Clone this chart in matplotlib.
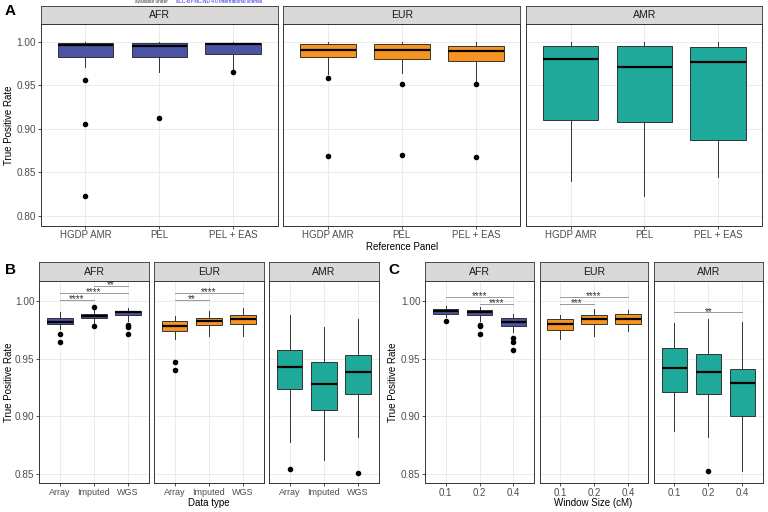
import numpy as np
import matplotlib.pyplot as plt

plt.rcParams['font.family'] = ['Liberation Sans', 'DejaVu Sans']

# ---- data: [whislo, q1, median, q3, whishi] per category ----
ref_panels = ["HGDP AMR", "PEL", "PEL + EAS"]
data_types = ["Array", "Imputed", "WGS"]
win_sizes = ["0.1", "0.2", "0.4"]
pops = ["AFR", "EUR", "AMR"]

a_afr = [[0.971, 0.983, 0.9962, 0.9992, 1.000],
         [0.9655, 0.983, 0.995, 0.999, 1.000],
         [0.968, 0.9862, 0.9973, 0.999, 1.000]]
a_afr_out = [[0.956, 0.905, 0.822], [0.912], [0.965]]
a_eur = [[0.963, 0.983, 0.9912, 0.9977, 1.000],
         [0.964, 0.9805, 0.991, 0.9973, 1.000],
         [0.953, 0.978, 0.990, 0.995, 1.000]]
a_eur_out = [[0.958, 0.869], [0.951, 0.8693], [0.951, 0.868]]
a_amr = [[0.8394, 0.9095, 0.980, 0.9954, 1.000],
         [0.8226, 0.9073, 0.9716, 0.995, 1.000],
         [0.844, 0.887, 0.977, 0.9946, 1.000]]
a_amr_out = [[], [], []]

b_afr = [[0.976, 0.980, 0.982, 0.985, 0.990],
         [0.981, 0.985, 0.987, 0.989, 0.992],
         [0.983, 0.9876, 0.990, 0.9916, 0.9936]]
b_afr_out = [[0.9716, 0.964], [0.9945, 0.978], [0.979, 0.977, 0.971]]
b_eur = [[0.967, 0.9742, 0.978, 0.9826, 0.9873],
         [0.970, 0.979, 0.983, 0.9852, 0.991],
         [0.970, 0.980, 0.984, 0.9878, 0.9936]]
b_eur_out = [[0.947, 0.940], [], []]
b_amr = [[0.878, 0.924, 0.943, 0.957, 0.9876],
         [0.862, 0.9054, 0.928, 0.947, 0.977],
         [0.882, 0.919, 0.938, 0.953, 0.984]]
b_amr_out = [[0.854], [], [0.851]]

c_afr = [[0.986, 0.989, 0.991, 0.9928, 0.996],
         [0.983, 0.988, 0.990, 0.9919, 0.995],
         [0.973, 0.978, 0.9815, 0.985, 0.989]]
c_afr_out = [[0.983], [0.979, 0.978, 0.9716], [0.968, 0.9644, 0.957]]
c_eur = [[0.9667, 0.975, 0.980, 0.984, 0.9878],
         [0.970, 0.980, 0.984, 0.988, 0.9928],
         [0.974, 0.980, 0.9847, 0.989, 0.992]]
c_eur_out = [[], [], []]
c_amr = [[0.887, 0.9207, 0.942, 0.9595, 0.9806],
         [0.882, 0.919, 0.938, 0.9537, 0.984],
         [0.8527, 0.900, 0.9285, 0.9407, 0.9815]]
c_amr_out = [[], [0.852], []]

# significance brackets: (from, to, height, label)
b_afr_sig = [(1, 2, 1.0006, "****"), (1, 3, 1.0067, "****"), (2, 3, 1.013, "**")]
b_eur_sig = [(1, 2, 1.0006, "**"), (1, 3, 1.0067, "****")]
c_afr_sig = [(1, 3, 1.0037, "****"), (2, 3, 0.9977, "****")]
c_eur_sig = [(1, 2, 0.9977, "***"), (1, 3, 1.0037, "****")]
c_amr_sig = [(1, 3, 0.990, "**")]

colors = {"AFR": "#4A54A2", "EUR": "#F7931E", "AMR": "#1FA99B"}

W, H = 768, 512
fig = plt.figure(figsize=(7.68, 5.12), dpi=100)


def rect(x0, y0, x1, y1):
    return [x0 / W, 1 - y1 / H, (x1 - x0) / W, (y1 - y0) / H]


def facet(x0, x1, ys, yt, yb, pop, stats, outs, labels, xfs, ylim, yticks, showy, sig=()):
    sax = fig.add_axes(rect(x0, ys, x1, yt))
    sax.set_facecolor('#D9D9D9')
    sax.set_xticks([]); sax.set_yticks([])
    for s in sax.spines.values():
        s.set_color('#333333'); s.set_linewidth(0.6)
    sax.text(0.5, 0.47, pop, ha='center', va='center', fontsize=7.6,
             color='#1A1A1A', transform=sax.transAxes)

    ax = fig.add_axes(rect(x0, yt, x1, yb))
    bs = []
    for st, o in zip(stats, outs):
        bs.append(dict(whislo=st[0], q1=st[1], med=st[2], q3=st[3], whishi=st[4], fliers=o))
    ax.bxp(bs, positions=[1, 2, 3], widths=0.75, patch_artist=True, showcaps=False,
           boxprops=dict(facecolor=colors[pop], edgecolor='#333333', linewidth=0.7),
           medianprops=dict(color='black', linewidth=1.6),
           whiskerprops=dict(color='#333333', linewidth=0.7),
           flierprops=dict(marker='o', markerfacecolor='black', markeredgecolor='black',
                           markersize=3.0))
    for x1b, x2b, h, lab in sig:
        ax.plot([x1b, x2b], [h, h], color='#9A9A9A', lw=0.7)
        ax.annotate(lab, xy=((x1b + x2b) / 2, h), xytext=(0, -1.6),
                    textcoords='offset points', ha='center', va='baseline',
                    fontsize=7.0, color='#333333')
    ax.set_xlim(0.4, 3.6)
    ax.set_ylim(*ylim)
    ax.set_xticks([1, 2, 3])
    ax.set_xticklabels(labels, fontsize=xfs)
    ax.set_yticks(yticks)
    ax.set_yticklabels(["%.2f" % v for v in yticks] if showy else [], fontsize=7.2)
    ax.grid(True, color='#EBEBEB', linewidth=0.7)
    ax.set_axisbelow(True)
    ax.tick_params(labelcolor='#4D4D4D', color='#333333',
                   length=2.5, width=0.6, pad=1)
    if not showy:
        ax.tick_params(axis='y', length=0)
    for s in ax.spines.values():
        s.set_color('#333333'); s.set_linewidth(0.7)
    return ax


# panel A
yt_a = [0.80, 0.85, 0.90, 0.95, 1.00]
ylim_a = (0.7885, 1.0207)
xa = [(41, 277.5), (283.3, 520.3), (526.3, 762.3)]
for i, (pop, st, o) in enumerate(zip(pops, [a_afr, a_eur, a_amr], [a_afr_out, a_eur_out, a_amr_out])):
    facet(xa[i][0], xa[i][1], 5.7, 24, 225.5, pop, st, o, ref_panels, 7.0,
          ylim_a, yt_a, i == 0)

# panel B and C
yt_b = [0.85, 0.90, 0.95, 1.00]
ylim_b = (0.842, 1.0173)
xb = [(39.3, 148.7), (154, 263.7), (269, 378.7)]
xc = [(425.3, 533.7), (539.7, 648.3), (654, 762.7)]
b_sig = [b_afr_sig, b_eur_sig, []]
c_sig = [c_afr_sig, c_eur_sig, c_amr_sig]
for i, (pop, st, o) in enumerate(zip(pops, [b_afr, b_eur, b_amr], [b_afr_out, b_eur_out, b_amr_out])):
    facet(xb[i][0], xb[i][1], 262.3, 281, 483, pop, st, o, data_types, 6.5,
          ylim_b, yt_b, i == 0, b_sig[i])
for i, (pop, st, o) in enumerate(zip(pops, [c_afr, c_eur, c_amr], [c_afr_out, c_eur_out, c_amr_out])):
    facet(xc[i][0], xc[i][1], 262.3, 281, 483, pop, st, o, win_sizes, 7.0,
          ylim_b, yt_b, i == 0, c_sig[i])

# axis titles and panel letters
for x, y in [(9, 125), (9, 382), (393.5, 382)]:
    fig.text(x / W, 1 - y / H, "True Positive Rate", ha='center', va='center',
             rotation=90, fontsize=7.0)
fig.text(401.8 / W, 1 - 246.5 / H, "Reference Panel", ha='center', va='center', fontsize=7.0)
fig.text(209 / W, 1 - 503.5 / H, "Data type", ha='center', va='center', fontsize=7.0)
fig.text(593.3 / W, 1 - 503.5 / H, "Window Size (cM)", ha='center', va='center', fontsize=7.0)
fig.text(10 / W, 1 - 11 / H, "A", ha='center', va='center', fontsize=11, fontweight='bold')
fig.text(10 / W, 1 - 270 / H, "B", ha='center', va='center', fontsize=11, fontweight='bold')
fig.text(394 / W, 1 - 270 / H, "C", ha='center', va='center', fontsize=11, fontweight='bold')

# tiny watermark line at top
fig.text(135 / W, 1 - 1.5 / H, "available under", ha='left', va='center', fontsize=3.4,
         color='#333333')
fig.text(176 / W, 1 - 1.5 / H, "aCC-BY-NC-ND 4.0 International license.", ha='left',
         va='center', fontsize=3.4, color='#2020E0')

fig.savefig("out.png", dpi=100)
